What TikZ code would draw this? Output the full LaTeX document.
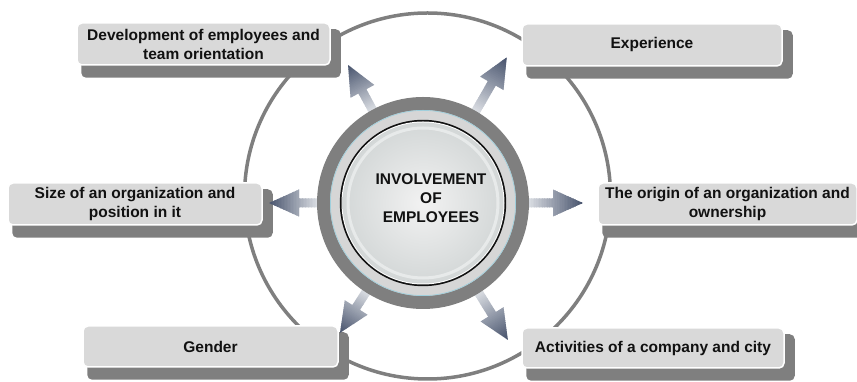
\documentclass[tikz,border=0pt]{standalone}
\usepackage{fontspec}
\setmainfont{Liberation Sans}
\usetikzlibrary{calc}
\definecolor{boxfill}{HTML}{D9D9D9}
\definecolor{shadowc}{HTML}{7F7F7F}
\definecolor{circc}{HTML}{7F7F7F}
\definecolor{ringdark}{HTML}{7F7F7F}
\definecolor{ringlight}{HTML}{D6D6D6}
\definecolor{ringedge}{HTML}{9FCFDC}
\definecolor{discedge}{HTML}{D3D7D7}
\definecolor{disccentre}{HTML}{F2F2F2}
\definecolor{textc}{HTML}{111111}
\definecolor{arrlight}{HTML}{DDE0E5}
\definecolor{arrdark}{HTML}{44506A}
\pgfdeclarelayer{shadowlayer}
\pgfdeclarelayer{circlayer}
\pgfsetlayers{shadowlayer,circlayer,main}
\newcommand\gradarrow[2]{%
  \begin{scope}[shift={(ringc)}, rotate=#1]
    \clip (95,-4.5) -- ({#2-30},-4.5) -- ({#2-30},-13.5) -- (#2,0) -- ({#2-30},13.5) -- ({#2-30},4.5) -- (95,4.5) -- cycle;
    \foreach \i in {0,...,39} {
      \pgfmathsetmacro\xa{95+(#2-95)*\i/40}
      \pgfmathsetmacro\xb{95+(#2-95)*(\i+1.4)/40}
      \pgfmathsetmacro\pc{max(0,min(100,100*(\xa-104)/(#2-104)))}
      \fill[arrdark!\pc!arrlight] (\xa,-15) rectangle (\xb,15);
    }
  \end{scope}}
\begin{document}
\begin{tikzpicture}[x=1pt,y=1pt,
  box/.style={draw=white, line width=1.5pt, fill=boxfill, rounded corners=5pt,
    align=center, font=\bfseries\fontsize{15.5}{19}\selectfont, text=textc,
    inner sep=0pt, minimum height=42pt},
  hubtext/.style={align=center, font=\bfseries\fontsize{15.5}{19}\selectfont, text=textc},
  shadowbox/.style={fill=shadowc, rounded corners=5pt},
  outercircle/.style={draw=circc, line width=3.5pt}]
\useasboundingbox (0,0) rectangle (857,382);
\coordinate (ringc) at (423,179);
\coordinate (bigc) at (427.5,186);

% arrows from the hub
\gradarrow{118.5}{157}
\gradarrow{60.1}{168}
\gradarrow{180}{154}
\gradarrow{0}{160}
\gradarrow{-122.6}{154}
\gradarrow{-58.2}{161}

% hub rings
\fill[ringdark] (ringc) circle (106);
\fill[ringlight] (ringc) circle (93);
\draw[ringedge, line width=0.7pt] (ringc) circle (92.6);
\fill[textc] (ringc) circle (83.2);
\fill[white] (ringc) circle (81.5);
\shade[inner color=disccentre, outer color=discedge] (ringc) circle (80.5);
\draw[white, line width=3pt, opacity=0.45] (ringc) circle (75);
\node[hubtext] (hub) at (431,184) {INVOLVEMENT\\OF\\EMPLOYEES};

% boxes
\node[box, minimum width=253pt] (dev) at (203.5,338) {Development of employees and\\team orientation};
\node[box, minimum width=260pt] (exp) at (652,337) {Experience};
\node[box, minimum width=254pt] (size) at (135,178) {Size of an organization and\\position in it};
\node[box, minimum width=259pt] (orig) at (727.5,178) {The origin of an organization and\\ownership};
\node[box, minimum width=255pt, minimum height=41pt] (gend) at (210.5,35.5) {Gender};
\node[box, minimum width=262pt, minimum height=40pt] (act) at (653,34) {Activities of a company and city};

\begin{pgfonlayer}{shadowlayer}
  \foreach \n in {dev,exp,size,orig,gend,act}
    \fill[shadowbox] ($(\n.south west)+(5,-12)$) rectangle ($(\n.north east)+(10,-7)$);
\end{pgfonlayer}
\begin{pgfonlayer}{circlayer}
  \draw[outercircle] (bigc) circle (183);
\end{pgfonlayer}
\end{tikzpicture}
\end{document}
